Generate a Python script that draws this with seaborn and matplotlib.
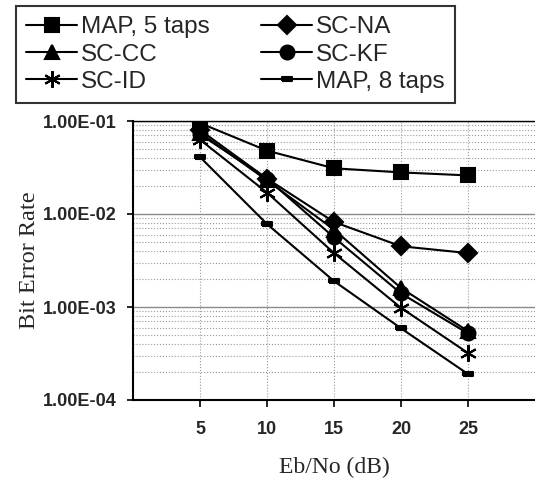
import numpy as np
import pandas as pd
import matplotlib
matplotlib.use("Agg")
import matplotlib.pyplot as plt
import seaborn as sns
from matplotlib.ticker import LogLocator, FuncFormatter, NullFormatter

# values
ebno = [5, 10, 15, 20, 25]
map5 = [0.095, 0.048, 0.031, 0.028, 0.026]
sc_na = [0.080, 0.024, 0.0082, 0.0045, 0.0038]
sc_cc = [0.075, 0.023, 0.0068, 0.0016, 0.00055]
sc_kf = [0.072, 0.024, 0.0056, 0.0014, 0.00052]
sc_id = [0.063, 0.017, 0.0038, 0.00098, 0.00032]
map8 = [0.041, 0.0078, 0.0019, 0.00059, 0.00019]

x_ticks = [5, 10, 15, 20, 25]

sns.set_theme(style="white")
plt.rcParams['font.family'] = ['Liberation Sans', 'DejaVu Sans']

fig = plt.figure(figsize=(5.35, 4.83), dpi=100)
ax = fig.add_axes([133 / 535, 1 - 400 / 483, (535 - 133) / 535, (400 - 121) / 483])

dash = [(-1, -0.45), (1, -0.45), (1, 0.45), (-1, 0.45), (-1, -0.45)]
series = [
    ("MAP, 5 taps", map5, "s", 10),
    ("SC-CC", sc_cc, "^", 10),
    ("SC-ID", sc_id, (6, 2, 0), 12),
    ("SC-NA", sc_na, "D", 9),
    ("SC-KF", sc_kf, "o", 10),
    ("MAP, 8 taps", map8, dash, 7),
]

for name, vals, mk, ms in series:
    sns.lineplot(x=ebno, y=vals, ax=ax, color="black", linewidth=1.5,
                 marker=mk, markersize=ms, markeredgecolor="black",
                 markeredgewidth=1.5, label=name)

ax.set_yscale("log")
ax.set_ylim(1e-4, 1e-1)
ax.set_xlim(0, 30)
ax.set_xticks(x_ticks)
ax.yaxis.set_major_locator(LogLocator(base=10, numticks=10))
ax.yaxis.set_minor_locator(LogLocator(base=10, subs=np.arange(2, 10), numticks=20))
ax.yaxis.set_major_formatter(FuncFormatter(lambda v, p: f"{v:.2E}"))
ax.yaxis.set_minor_formatter(NullFormatter())

ax.grid(True, which="major", axis="y", color="#8a8a8a", linewidth=1.0, linestyle="-")
ax.grid(True, which="minor", axis="y", color="#9a9a9a", linewidth=0.8, linestyle=":")
ax.grid(True, which="major", axis="x", color="#9a9a9a", linewidth=0.8, linestyle=":")
ax.set_axisbelow(True)

for s in ["left", "bottom", "top"]:
    ax.spines[s].set_color("black")
    ax.spines[s].set_linewidth(1.5)
ax.spines["top"].set_linewidth(1.0)
ax.spines["right"].set_visible(False)

ax.tick_params(axis="x", which="major", direction="out", length=5, width=1.2,
               color="black", bottom=True, labelsize=13, pad=10)
ax.tick_params(axis="y", which="major", direction="out", length=4, width=1.2,
               color="black", left=True, labelsize=13, pad=8)
ax.tick_params(axis="y", which="minor", left=False)
for lab in ax.get_xticklabels() + ax.get_yticklabels():
    lab.set_fontweight("bold")

ax.set_xlabel("Eb/No (dB)", family=["Liberation Serif", "DejaVu Serif"], fontsize=17, labelpad=14)
ax.set_ylabel("Bit Error Rate", family=["Liberation Serif", "DejaVu Serif"], fontsize=17.5, labelpad=2)

handles, labels = ax.get_legend_handles_labels()
ax.get_legend().remove()
leg = fig.legend(handles, labels, ncol=2, loc="upper left",
                 bbox_to_anchor=(16 / 535, 1 - 6 / 483), borderaxespad=0,
                 fontsize=17.5, frameon=True, fancybox=False, edgecolor="black",
                 handlelength=2.1, handletextpad=0.17, columnspacing=2.1,
                 labelspacing=0.22, borderpad=0.42)
leg.get_frame().set_linewidth(1.5)

fig.savefig("out.png", dpi=100)
